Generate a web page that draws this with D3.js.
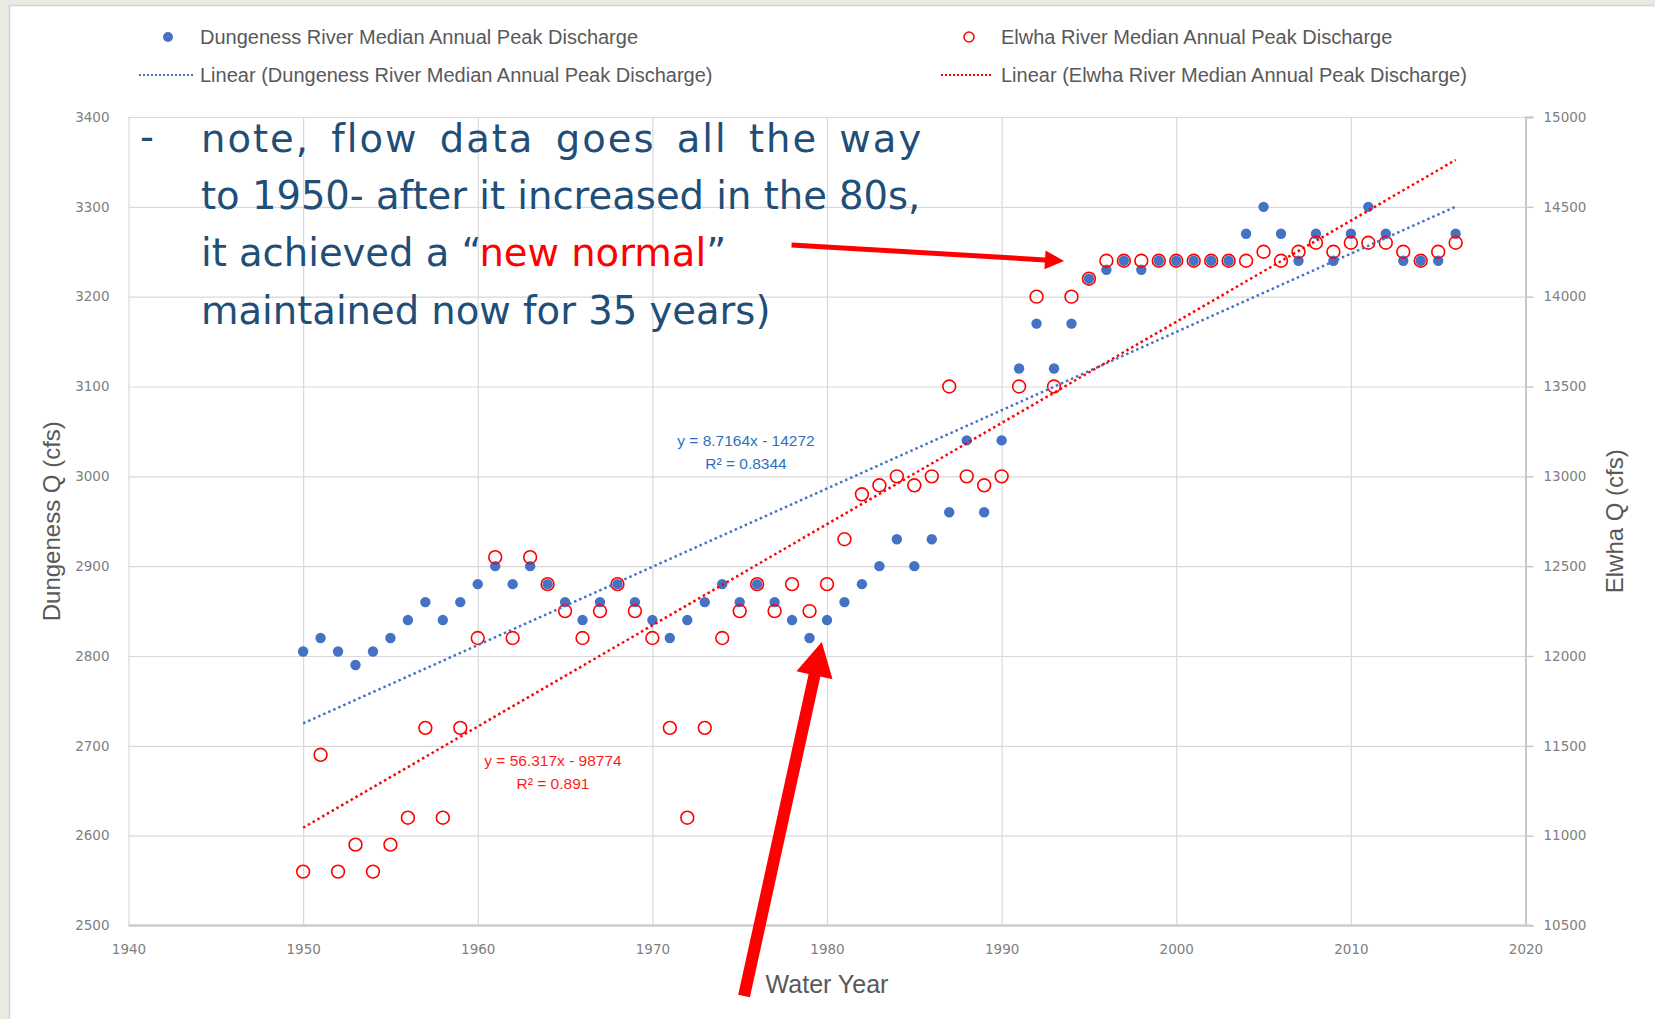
<!DOCTYPE html>
<html>
<head>
<meta charset="utf-8">
<script src="https://cdn.jsdelivr.net/npm/d3@7"></script>
<style>
  html, body { margin: 0; padding: 0; background: #e9ebe2; }
  svg { display: block; }
  .narrow { font-family: "Liberation Sans Narrow", "Liberation Sans", Arial, sans-serif; }
  .tick text { font-family: "DejaVu Sans", sans-serif; font-size: 13.5px; fill: #808080; }
</style>
</head>
<body>
<script>
// Water years
const years = [1950,1951,1952,1953,1954,1955,1956,1957,1958,1959,
               1960,1961,1962,1963,1964,1965,1966,1967,1968,1969,
               1970,1971,1972,1973,1974,1975,1976,1977,1978,1979,
               1980,1981,1982,1983,1984,1985,1986,1987,1988,1989,
               1990,1991,1992,1993,1994,1995,1996,1997,1998,1999,
               2000,2001,2002,2003,2004,2005,2006,2007,2008,2009,
               2010,2011,2012,2013,2014,2015,2016];

// Dungeness River median annual peak discharge (cfs), left axis
const dungeness = [2805,2820,2805,2790,2805,2820,2840,2860,2840,2860,
                   2880,2900,2880,2900,2880,2860,2840,2860,2880,2860,
                   2840,2820,2840,2860,2880,2860,2880,2860,2840,2820,
                   2840,2860,2880,2900,2930,2900,2930,2960,3040,2960,
                   3040,3120,3170,3120,3170,3220,3230,3240,3230,3240,
                   3240,3240,3240,3240,3270,3300,3270,3240,3270,3240,
                   3270,3300,3270,3240,3240,3240,3270];

// Elwha River median annual peak discharge (cfs), right axis
const elwha = [10800,11450,10800,10950,10800,10950,11100,11600,11100,11600,
               12100,12550,12100,12550,12400,12250,12100,12250,12400,12250,
               12100,11600,11100,11600,12100,12250,12400,12250,12400,12250,
               12400,12650,12900,12950,13000,12950,13000,13500,13000,12950,
               13000,13500,14000,13500,14000,14100,14200,14200,14200,14200,
               14200,14200,14200,14200,14200,14250,14200,14250,14300,14250,
               14300,14300,14300,14250,14200,14250,14300];

// Linear trend coefficients [slope, intercept] and R²
const dungenessFit = [8.7164, -14272];
const dungenessR2 = 0.8344;
const elwhaFit = [56.317, -98774];
const elwhaR2 = 0.891;

// Axis ticks
const xTicks = [1940,1950,1960,1970,1980,1990,2000,2010,2020];
const leftTicks = [2500,2600,2700,2800,2900,3000,3100,3200,3300,3400];
const rightTicks = [10500,11000,11500,12000,12500,13000,13500,14000,14500,15000];

// Legend labels
const legendLabels = [
  "Dungeness River Median Annual Peak Discharge",
  "Linear (Dungeness River Median Annual Peak Discharge)",
  "Elwha River Median Annual Peak Discharge",
  "Linear (Elwha River Median Annual Peak Discharge)"
];

// Callout arrows, endpoints in (year, Dungeness cfs)
const arrowFrom = [[1977.97, 3257.6], [1975.25, 2421.5]];
const arrowTo   = [[1993.57, 3239.7], [1979.7, 2815.6]];

const W = 1655, H = 1019;
const BLUE = "#4472C4", RED = "#FF0000", GRID = "#d9d9d9";

const svg = d3.select("body").append("svg").attr("width", W).attr("height", H);

// white slide panel
svg.append("rect").attr("x", 9.5).attr("y", 5.5).attr("width", W).attr("height", H)
  .attr("fill", "#ffffff").attr("stroke", "#d4d4d4").attr("stroke-width", 1.5);

const x = d3.scaleLinear().domain([1940, 2020]).range([128.5, 1525.5]);
const yL = d3.scaleLinear().domain([2500, 3400]).range([925.5, 117]);
const yR = d3.scaleLinear().domain([10500, 15000]).range([925.5, 117]);

// gridlines
svg.append("g").attr("transform", `translate(${x.range()[0]},0)`)
  .call(d3.axisLeft(yL).tickValues(leftTicks).tickSize(-(x.range()[1] - x.range()[0])).tickFormat(""))
  .call(g => g.select(".domain").remove())
  .call(g => g.selectAll("line").attr("stroke", GRID).attr("stroke-width", 1.2));
svg.append("g").attr("transform", `translate(0,${yL.range()[0]})`)
  .call(d3.axisBottom(x).tickValues(xTicks).tickSize(-(yL.range()[0] - yL.range()[1])).tickFormat(""))
  .call(g => g.select(".domain").remove())
  .call(g => g.selectAll("line").attr("stroke", GRID).attr("stroke-width", 1.2));

// left axis labels
svg.append("g").attr("transform", `translate(${x.range()[0]},0)`)
  .call(d3.axisLeft(yL).tickValues(leftTicks).tickSize(0).tickPadding(19).tickFormat(d3.format("d")))
  .call(g => g.select(".domain").remove());

// right axis
svg.append("g").attr("transform", `translate(${x.range()[1]},0)`)
  .call(d3.axisRight(yR).tickValues(rightTicks).tickSize(8).tickPadding(10).tickFormat(d3.format("d")))
  .call(g => g.select(".domain").attr("stroke", "#c8c8c8").attr("stroke-width", 2))
  .call(g => g.selectAll(".tick line").attr("stroke", "#c8c8c8").attr("stroke-width", 1.5));

// bottom axis
svg.append("g").attr("transform", `translate(0,${yL.range()[0]})`)
  .call(d3.axisBottom(x).tickValues(xTicks).tickSize(0).tickPadding(19).tickFormat(d3.format("d")))
  .call(g => g.select(".domain").attr("stroke", "#cfcfcf").attr("stroke-width", 2.5)
    .attr("d", `M${x.range()[0]},0H${x.range()[1] + 6}`));

// axis titles
svg.append("text").attr("class", "narrow")
  .attr("transform", `translate(${60},${yL(2950)}) rotate(-90)`)
  .attr("text-anchor", "middle").attr("font-size", 24).attr("fill", "#595959")
  .text("Dungeness Q (cfs)");
svg.append("text").attr("class", "narrow")
  .attr("transform", `translate(${1623},${yL(2950)}) rotate(-90)`)
  .attr("text-anchor", "middle").attr("font-size", 24).attr("fill", "#595959")
  .text("Elwha Q (cfs)");
svg.append("text").attr("class", "narrow")
  .attr("x", 827).attr("y", 993).attr("text-anchor", "middle")
  .attr("font-size", 25).attr("fill", "#595959").text("Water Year");

// scatter: Dungeness (filled blue dots)
svg.append("g").selectAll("circle").data(years).join("circle")
  .attr("cx", (d) => x(d)).attr("cy", (d, i) => yL(dungeness[i]))
  .attr("r", 5.2).attr("fill", BLUE);

// scatter: Elwha (open red circles)
svg.append("g").selectAll("circle").data(years).join("circle")
  .attr("cx", (d) => x(d)).attr("cy", (d, i) => yR(elwha[i]))
  .attr("r", 6.4).attr("fill", "none").attr("stroke", RED).attr("stroke-width", 1.6);

// linear trendlines
const x0 = years[0], x1 = years[years.length - 1];
const fitLine = (fit, ys) => `M${x(x0)},${ys(fit[0] * x0 + fit[1])}L${x(x1)},${ys(fit[0] * x1 + fit[1])}`;
svg.append("path").attr("d", fitLine(dungenessFit, yL)).attr("fill", "none")
  .attr("stroke", BLUE).attr("stroke-width", 2.5).attr("stroke-dasharray", "2.5,3");
svg.append("path").attr("d", fitLine(elwhaFit, yR)).attr("fill", "none")
  .attr("stroke", RED).attr("stroke-width", 2.5).attr("stroke-dasharray", "2.5,3");

// trend equations
const eq = (fit) => `y = ${fit[0]}x - ${Math.abs(fit[1])}`;
const eqBlue = svg.append("text").attr("class", "narrow").attr("text-anchor", "middle")
  .attr("font-size", 15.5).attr("fill", "#2f6fc0");
eqBlue.append("tspan").attr("x", 746).attr("y", 446).text(eq(dungenessFit));
eqBlue.append("tspan").attr("x", 746).attr("y", 469).text(`R² = ${dungenessR2}`);
const eqRed = svg.append("text").attr("class", "narrow").attr("text-anchor", "middle")
  .attr("font-size", 15.5).attr("fill", "#ff1a1a");
eqRed.append("tspan").attr("x", 553).attr("y", 766).text(eq(elwhaFit));
eqRed.append("tspan").attr("x", 553).attr("y", 789).text(`R² = ${elwhaR2}`);

// legend
const leg = svg.append("g").attr("class", "narrow").attr("font-size", 20).attr("fill", "#595959");
leg.append("circle").attr("cx", 168).attr("cy", 37).attr("r", 5).attr("fill", BLUE);
leg.append("line").attr("x1", 139).attr("x2", 194).attr("y1", 75).attr("y2", 75)
  .attr("stroke", BLUE).attr("stroke-width", 2.2).attr("stroke-dasharray", "2,2");
leg.append("circle").attr("cx", 969).attr("cy", 37).attr("r", 5).attr("fill", "none")
  .attr("stroke", RED).attr("stroke-width", 1.5);
leg.append("line").attr("x1", 941).attr("x2", 993).attr("y1", 75).attr("y2", 75)
  .attr("stroke", RED).attr("stroke-width", 2.2).attr("stroke-dasharray", "2,2");
const legPos = [[200, 37], [200, 75], [1001, 37], [1001, 75]];
leg.selectAll("text").data(legendLabels).join("text")
  .attr("x", (d, i) => legPos[i][0]).attr("y", (d, i) => legPos[i][1])
  .attr("dy", "0.35em").text((d) => d);

// note text (first line set wider to fill the box)
const note = svg.append("g").attr("font-family", "'DejaVu Sans', Verdana, sans-serif")
  .attr("font-size", 38.5).attr("fill", "#1f4e79");
note.append("text").attr("x", 140).attr("y", 150).text("-");
const lines = ["note, flow data goes all the way", "to 1950- after it increased in the 80s,", null, "maintained now for 35 years)"];
const baseY = [152, 209, 266, 324];
lines.forEach((t, i) => {
  const tx = note.append("text").attr("x", 201).attr("y", baseY[i]);
  if (i === 0) tx.attr("letter-spacing", 2).attr("word-spacing", 7);
  if (t) tx.text(t);
  else {
    tx.append("tspan").text("it achieved a “");
    tx.append("tspan").attr("fill", RED).text("new normal");
    tx.append("tspan").text("”");
  }
});

// callout arrows
function arrowPath(p0, p1, shaft, headLen, headW) {
  const dx = p1[0] - p0[0], dy = p1[1] - p0[1], L = Math.hypot(dx, dy);
  const ux = dx / L, uy = dy / L, px = -uy, py = ux;
  const bx = p1[0] - ux * headLen, by = p1[1] - uy * headLen;
  const pts = [
    [p0[0] + px * shaft / 2, p0[1] + py * shaft / 2],
    [bx + px * shaft / 2, by + py * shaft / 2],
    [bx + px * headW / 2, by + py * headW / 2],
    p1,
    [bx - px * headW / 2, by - py * headW / 2],
    [bx - px * shaft / 2, by - py * shaft / 2],
    [p0[0] - px * shaft / 2, p0[1] - py * shaft / 2]
  ];
  return "M" + pts.map(p => p.join(",")).join("L") + "Z";
}
const arrowStyle = [[5, 19, 19], [12, 34, 37]];
arrowFrom.forEach((f, i) => {
  const p0 = [x(f[0]), yL(f[1])], p1 = [x(arrowTo[i][0]), yL(arrowTo[i][1])];
  svg.append("path").attr("d", arrowPath(p0, p1, ...arrowStyle[i])).attr("fill", RED);
});
</script>
</body>
</html>
